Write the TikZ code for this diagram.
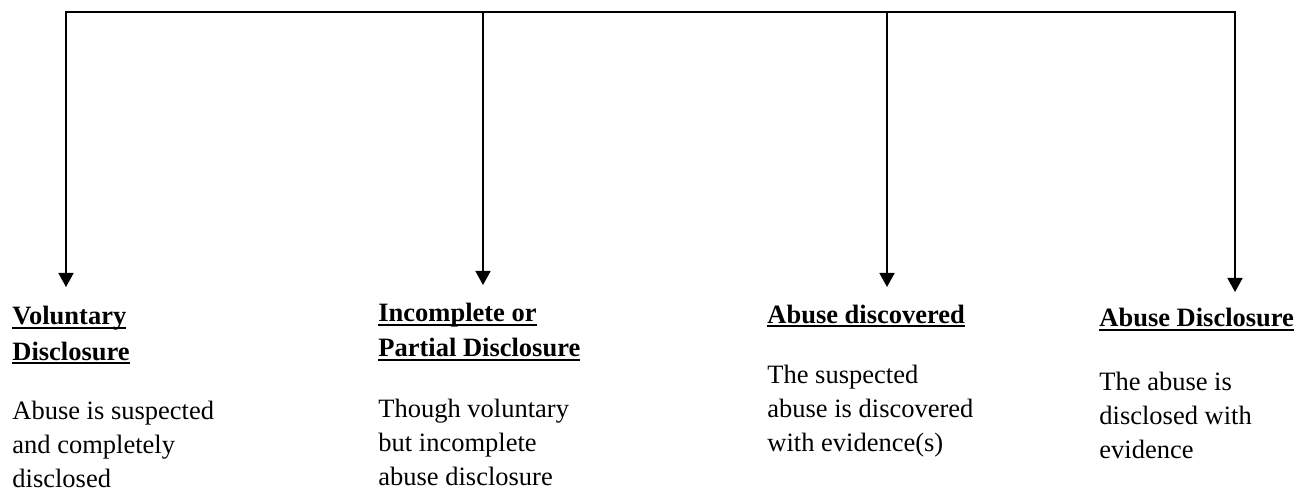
\documentclass[tikz,border=0pt]{standalone}
\usepackage{fontspec}
\setmainfont{Liberation Serif}
\usetikzlibrary{arrows.meta}
\newcommand{\hul}[1]{\setbox0\hbox{#1}\rlap{\rule[-2.2pt]{\wd0}{1.1pt}}\box0}

\begin{document}
\begin{tikzpicture}[x=0.5pt, y=-0.5pt,
  head/.style={anchor=base west, inner sep=0pt, align=left,
               font=\fontsize{13.25}{17.5}\selectfont\bfseries},
  body/.style={anchor=base west, inner sep=0pt, align=left,
               font=\fontsize{13.25}{17}\selectfont},
  bar/.style={line width=0.8pt, line cap=rect},
  arr/.style={-{Triangle[length=7pt, width=7.5pt]}, line width=0.8pt}]
  \useasboundingbox (0,0) rectangle (1315,496);
  \coordinate (t1) at (66,12);   \coordinate (e1) at (66,287);
  \coordinate (t2) at (483,12);  \coordinate (e2) at (483,285);
  \coordinate (t3) at (887,12);  \coordinate (e3) at (887,287);
  \coordinate (t4) at (1235,12); \coordinate (e4) at (1235,292);
  % base anchor sits on the last line
  \node[head] (vol) at (12,360) {\hul{Voluntary}\\\hul{Disclosure}};
  \node[body] (volt) at (12,487) {Abuse is suspected\\and completely\\disclosed};
  \node[head] (inc) at (378,357) {\hul{Incomplete or}\\\hul{Partial Disclosure}};
  \node[body] (inct) at (378,485) {Though voluntary\\but incomplete\\abuse disclosure};
  \node[head] (dis) at (767,323) {\hul{Abuse discovered}};
  \node[body] (dist) at (767,451) {The suspected\\abuse is discovered\\with evidence(s)};
  \node[head] (abd) at (1099,327) {\hul{Abuse Disclosure}};
  \node[body] (abdt) at (1099,458) {The abuse is\\disclosed with\\evidence};
  \draw[bar] (t1) -- (t4);
  \draw[arr] (t1) -- (e1); \draw[arr] (t2) -- (e2);
  \draw[arr] (t3) -- (e3); \draw[arr] (t4) -- (e4);
\end{tikzpicture}
\end{document}
